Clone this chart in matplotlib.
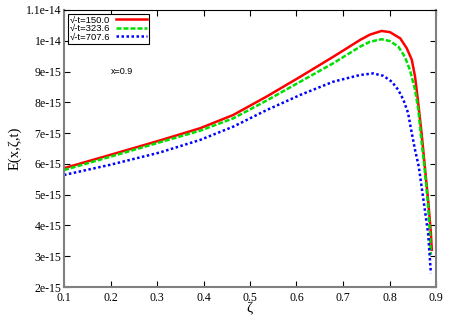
import numpy as np
import matplotlib
matplotlib.use("Agg")
import matplotlib.pyplot as plt

# values, in units of 1e-15
zeta_a = [0.100, 0.199, 0.306, 0.393, 0.464, 0.536, 0.608, 0.679, 0.737, 0.758,
          0.783, 0.801, 0.823, 0.837, 0.848, 0.855, 0.861, 0.869, 0.876, 0.883,
          0.889, 0.891]
e_a = [5.86, 6.29, 6.76, 7.16, 7.59, 8.19, 8.83, 9.48, 10.03, 10.20,
       10.32, 10.28, 10.08, 9.76, 9.38, 8.83, 8.08, 7.00, 5.91, 4.83,
       3.75, 3.21]

zeta_b = [0.100, 0.199, 0.306, 0.393, 0.464, 0.536, 0.608, 0.679, 0.737, 0.758,
          0.783, 0.801, 0.819, 0.833, 0.844, 0.855, 0.862, 0.867, 0.875, 0.882,
          0.887, 0.889]
e_b = [5.80, 6.23, 6.70, 7.08, 7.48, 8.06, 8.67, 9.27, 9.81, 9.97,
       10.05, 9.99, 9.81, 9.48, 9.05, 8.40, 7.75, 7.00, 5.91, 4.83,
       3.75, 3.05]

zeta_c = [0.100, 0.199, 0.306, 0.393, 0.464, 0.536, 0.608, 0.679, 0.737, 0.765,
          0.787, 0.805, 0.819, 0.830, 0.840, 0.846, 0.855, 0.863, 0.873, 0.883,
          0.889]
e_c = [5.64, 5.97, 6.37, 6.78, 7.21, 7.75, 8.24, 8.67, 8.89, 8.94,
       8.86, 8.67, 8.40, 8.08, 7.65, 7.15, 6.45, 5.91, 4.83, 3.75,
       2.45]

labels = ["\u221a-t=150.0", "\u221a-t=323.6", "\u221a-t=707.6"]

yticks = [2e-15, 3e-15, 4e-15, 5e-15, 6e-15, 7e-15, 8e-15, 9e-15, 1e-14, 1.1e-14]
ytick_labels = ["2e-15", "3e-15", "4e-15", "5e-15", "6e-15", "7e-15", "8e-15",
                "9e-15", "1e-14", "1.1e-14"]
xticks = [0.1, 0.2, 0.3, 0.4, 0.5, 0.6, 0.7, 0.8, 0.9]

serif = "Liberation Serif"
sans = "Liberation Sans"

fig = plt.figure(figsize=(4.52, 3.16), dpi=100)
ax = fig.add_axes([64/452, 1 - 287/316, 372/452, 277/316])

ax.plot(zeta_a, np.array(e_a) * 1e-15, color="#ff0000", lw=1.8, ls="-", label=labels[0])
ax.plot(zeta_b, np.array(e_b) * 1e-15, color="#00e000", lw=1.8, ls=(0, (2, 0.8)), label=labels[1])
ax.plot(zeta_c, np.array(e_c) * 1e-15, color="#0000ff", lw=1.8, ls=(0, (1, 1)), label=labels[2])

ax.set_xlim(0.1, 0.9)
ax.set_ylim(2e-15, 1.1e-14)
ax.set_xticks(xticks)
ax.set_xticklabels([f"{t:.1f}" for t in xticks], fontfamily=serif, fontsize=8.5)
ax.set_yticks(yticks)
ax.set_yticklabels(ytick_labels, fontfamily=serif, fontsize=8.5)
ax.tick_params(direction="in", top=True, right=True, length=4, width=0.8, pad=2)
ax.tick_params(axis="x", pad=3.5)

for side in ["left", "bottom", "right"]:
    ax.spines[side].set_color("#808080")
    ax.spines[side].set_linewidth(1.5)
ax.spines["top"].set_color("black")
ax.spines["top"].set_linewidth(0.8)

ax.set_xlabel("\u03b6", fontfamily=serif, fontsize=11, labelpad=-1)
ax.set_ylabel("E(x,\u03b6,t)", fontfamily=serif, fontsize=10.5, labelpad=3)

ax.text(0.2, 9e-15, "x=0.9", fontfamily=sans, fontsize=6.5, va="center", ha="left")

leg = ax.legend(loc="upper left", markerfirst=False, prop={"family": sans, "size": 6.8},
                frameon=True, fancybox=False, edgecolor="black", framealpha=1,
                borderpad=0.2, labelspacing=-0.05, handlelength=3.3, handletextpad=0.6,
                borderaxespad=0.4)
leg.get_frame().set_linewidth(0.8)

fig.savefig("out.png", dpi=100)
